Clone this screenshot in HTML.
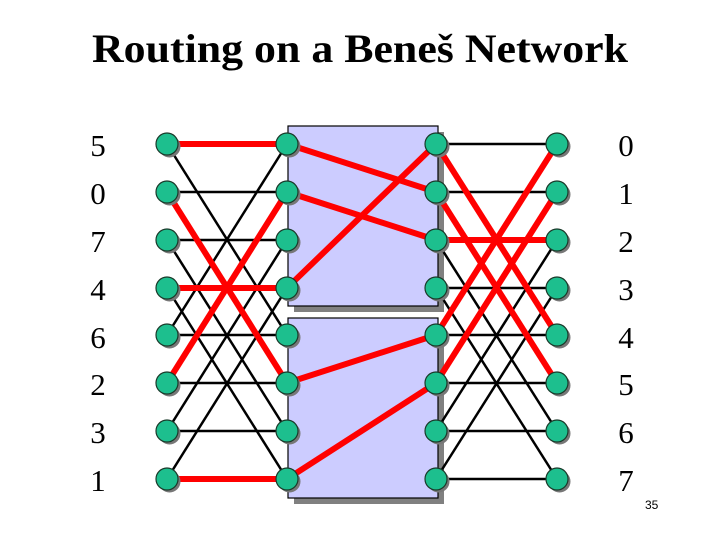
<!DOCTYPE html>
<html><head><meta charset="utf-8"><style>
html,body{margin:0;padding:0;background:#fff;}
svg{display:block;}
</style></head><body>
<svg width="720" height="540" viewBox="0 0 720 540" xmlns="http://www.w3.org/2000/svg" font-family="Liberation Serif, serif">
<text x="92" y="62" font-size="40" font-weight="bold" textLength="536" lengthAdjust="spacingAndGlyphs">Routing on a Beneš Network</text>
<!-- boxes -->
<rect x="294" y="132" width="150" height="180" fill="#808080"/>
<rect x="288" y="126" width="150" height="180" fill="#ccccff" stroke="#000" stroke-width="1.2"/>
<rect x="294" y="324" width="150" height="180" fill="#808080"/>
<rect x="288" y="318" width="150" height="180" fill="#ccccff" stroke="#000" stroke-width="1.2"/>
<g id="lines" stroke="#000" stroke-width="2.5">
</g>
<script>
var ys=[144,192,240,288,335,383,431,479];var X=[167,287,436,557];
var ns="http://www.w3.org/2000/svg";var svg=document.querySelector('svg');var g=document.getElementById('lines');
function L(x1,y1,x2,y2,c,w){var l=document.createElementNS(ns,'line');l.setAttribute('x1',x1);l.setAttribute('y1',y1);l.setAttribute('x2',x2);l.setAttribute('y2',y2);l.setAttribute('stroke',c);l.setAttribute('stroke-width',w);g.appendChild(l);}
for(var i=0;i<8;i++){L(X[0],ys[i],X[1],ys[i],'#000',2.5);L(X[0],ys[i],X[1],ys[i^4],'#000',2.5);L(X[2],ys[i],X[3],ys[i],'#000',2.5);L(X[2],ys[i],X[3],ys[i^4],'#000',2.5);}
var R=[[0,0,0],[0,1,5],[0,3,3],[0,5,1],[0,7,7],[1,0,1],[1,1,2],[1,3,0],[1,5,4],[1,7,5],[2,0,4],[2,1,5],[2,2,2],[2,4,0],[2,5,1]];
R.forEach(function(r){L(X[r[0]],ys[r[1]],X[r[0]+1],ys[r[2]],'#ff0000',6);});
for(var c=0;c<4;c++)for(var i=0;i<8;i++){
var s=document.createElementNS(ns,'circle');s.setAttribute('cx',X[c]+2.5);s.setAttribute('cy',ys[i]+2.5);s.setAttribute('r',11);s.setAttribute('fill','#777');svg.appendChild(s);
var ci=document.createElementNS(ns,'circle');ci.setAttribute('cx',X[c]);ci.setAttribute('cy',ys[i]);ci.setAttribute('r',11);ci.setAttribute('fill','#1dbf8e');ci.setAttribute('stroke','#1a3a2a');ci.setAttribute('stroke-width','1.2');svg.appendChild(ci);}
</script>
<g font-size="31" text-anchor="middle">
<text x="98" y="156">5</text><text x="98" y="204">0</text><text x="98" y="252">7</text><text x="98" y="300">4</text>
<text x="98" y="348">6</text><text x="98" y="395">2</text><text x="98" y="443">3</text><text x="98" y="491">1</text>
<text x="626" y="156">0</text><text x="626" y="204">1</text><text x="626" y="252">2</text><text x="626" y="300">3</text>
<text x="626" y="348">4</text><text x="626" y="395">5</text><text x="626" y="443">6</text><text x="626" y="491">7</text>
</g>
<text x="645" y="509" font-size="12" font-family="Liberation Sans, sans-serif">35</text>
</svg>
</body></html>
